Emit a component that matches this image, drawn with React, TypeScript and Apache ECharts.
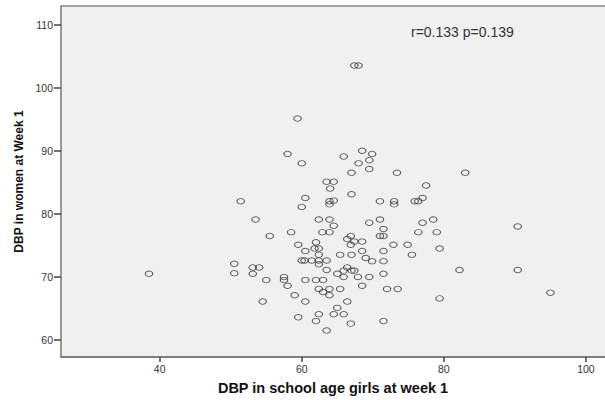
import React, { useEffect, useRef } from "react";
import * as echarts from "echarts";

// DBP in school age girls at week 1 (x) and DBP in women at Week 1 (y)
const girlsDBP = [
  38.5, 67.4, 68.0, 59.4, 58.0, 60.0, 65.9, 68.5, 69.9, 68.0, 69.5, 67.0, 69.5, 73.4, 63.5, 64.5,
  64.0, 67.0, 83.0, 77.5, 60.5, 60.0, 63.9, 64.5, 63.9, 71.0, 73.0, 73.0, 75.9, 76.4, 77.0, 51.4,
  53.5, 62.4, 63.9, 64.5, 58.5, 62.9, 63.9, 55.5, 66.9, 66.4, 67.4, 62.0, 59.5, 66.9, 61.8, 62.4,
  60.5, 62.4, 65.4, 67.0, 60.0, 60.4, 61.4, 62.4, 63.5, 62.4, 66.4, 65.9, 67.0, 67.4, 63.5, 65.0,
  65.9, 67.9, 53.1, 54.0, 53.1, 55.0, 57.5, 57.5, 58.0, 60.5, 62.0, 63.0, 68.5, 62.4, 63.0, 63.9,
  63.9, 65.4, 59.0, 54.5, 60.5, 66.4, 65.0, 62.4, 64.5, 65.9, 59.5, 62.0, 66.9, 63.5, 69.5, 71.0,
  71.5, 71.0, 71.5, 77.0, 78.5, 76.4, 79.0, 68.5, 72.9, 74.9, 68.5, 71.5, 79.4, 75.5, 69.0, 69.9,
  71.5, 69.5, 71.5, 72.0, 73.5, 79.4, 82.2, 71.5, 50.5, 50.5, 90.4, 90.4, 95.0,
];
const womenDBP = [
  70.5, 103.5, 103.5, 95.1, 89.5, 88.0, 89.1, 90.0, 89.5, 88.0, 88.5, 86.5, 87.1, 86.5, 85.1, 85.1,
  84.0, 83.1, 86.5, 84.5, 82.5, 81.1, 82.0, 82.1, 81.5, 82.0, 82.0, 81.5, 82.0, 82.0, 82.5, 82.0,
  79.1, 79.1, 79.1, 78.1, 77.1, 77.1, 77.1, 76.5, 76.5, 76.0, 75.6, 75.5, 75.1, 75.1, 74.5, 74.5,
  74.1, 73.5, 73.5, 73.5, 72.6, 72.6, 72.6, 72.6, 72.6, 72.0, 71.5, 71.0, 71.0, 71.0, 71.1, 70.5,
  70.0, 70.0, 71.5, 71.5, 70.5, 69.5, 70.0, 69.5, 68.6, 69.5, 69.5, 69.5, 68.6, 68.1, 67.6, 68.1,
  67.1, 68.1, 67.1, 66.1, 66.1, 66.1, 65.1, 64.1, 64.1, 64.1, 63.6, 63.0, 62.6, 61.5, 78.6, 79.1,
  77.6, 76.5, 76.5, 78.6, 79.1, 77.1, 77.1, 75.6, 75.1, 75.1, 74.1, 74.1, 74.5, 73.5, 73.0, 72.5,
  72.5, 70.0, 70.5, 68.1, 68.1, 66.6, 71.1, 63.0, 72.1, 70.6, 78.0, 71.1, 67.5,
];
const xTicks = [40, 60, 80, 100];
const yTicks = [60, 70, 80, 90, 100, 110];
const xTitle = "DBP in school age girls at week 1";
const yTitle = "DBP in women at Week 1";
const note = "r=0.133 p=0.139";

const FONT = "'Liberation Sans', Arial, sans-serif";

export default function App() {
  const ref = useRef<HTMLDivElement>(null);
  useEffect(() => {
    if (!ref.current) return;
    const chart = echarts.init(ref.current, null, { renderer: "svg" });
    const points = girlsDBP.map((x, i) => [x, womenDBP[i]]);
    chart.setOption({
      animation: false,
      backgroundColor: "#ffffff",
      grid: {
        left: 61,
        top: 6,
        right: 0,
        bottom: 42.3,
        show: true,
        backgroundColor: "#f0f0f0",
        borderWidth: 0,
        borderColor: "transparent",
      },
      xAxis: {
        type: "value",
        min: 26.11,
        max: 102.68,
        splitLine: { show: false },
        axisLine: { show: true, lineStyle: { color: "#808080", width: 2 } },
        axisTick: {
          show: true,
          length: 5,
          customValues: xTicks,
          lineStyle: { color: "#444", width: 1.5 },
        },
        axisLabel: {
          customValues: xTicks,
          margin: 6,
          color: "#333",
          fontSize: 10.5,
          fontFamily: FONT,
        },
        name: xTitle,
        nameLocation: "middle",
        nameGap: 23,
        nameTextStyle: { fontSize: 14.5, fontWeight: "bold", color: "#111", fontFamily: FONT },
      },
      yAxis: {
        type: "value",
        min: 57.31,
        max: 112.94,
        splitLine: { show: false },
        axisLine: { show: true, lineStyle: { color: "#777", width: 1.5 } },
        axisTick: {
          show: true,
          length: 7,
          customValues: yTicks,
          lineStyle: { color: "#444", width: 1.5 },
        },
        axisLabel: {
          customValues: yTicks,
          margin: 8,
          color: "#333",
          fontSize: 10.5,
          fontFamily: FONT,
        },
        name: yTitle,
        nameLocation: "middle",
        nameGap: 36,
        nameTextStyle: { fontSize: 12, fontWeight: "bold", color: "#111", fontFamily: FONT },
      },
      graphic: [
        {
          type: "line",
          shape: { x1: 61, y1: 6, x2: 605, y2: 6 },
          style: { stroke: "#8a8a8a", lineWidth: 1.5 },
          silent: true,
        },
        {
          type: "text",
          left: 411,
          top: 25,
          style: { text: note, font: `14px ${FONT}`, fill: "#333" },
        },
      ],
      series: [
        {
          type: "scatter",
          data: points,
          symbol: "circle",
          symbolSize: [7.5, 5.5],
          itemStyle: { color: "rgba(0,0,0,0)", borderColor: "#333", borderWidth: 1 },
          emphasis: { disabled: true },
        },
      ],
    });
    return () => chart.dispose();
  }, []);
  return (
    <div
      ref={ref}
      style={{ position: "fixed", left: 0, top: 0, width: 605, height: 400, background: "#fff" }}
    />
  );
}
